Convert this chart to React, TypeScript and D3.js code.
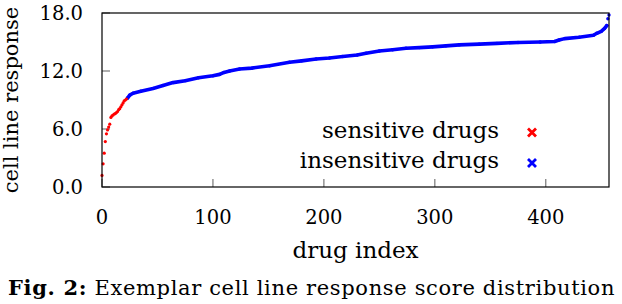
import React from "react";
import * as d3 from "d3";

// sensitive drugs (red), index -> score
const sensIdx = [0, 1, 2, 3, 4, 5, 6, 7, 8, 9, 10, 11, 12, 13, 14, 15, 16, 17, 18, 19, 20, 21, 22];
const sensVal = [1.2, 2.4, 3.5, 4.7, 5.5, 5.9, 6.2, 6.5, 7.2, 7.35, 7.45, 7.55, 7.6, 7.7, 7.8, 8.0, 8.1, 8.3, 8.5, 8.7, 8.9, 9.0, 9.1];

// insensitive drugs (blue), index -> score
const insIdx = [23, 25, 28, 35, 46, 55, 64, 75, 87, 100, 106, 110, 115, 124, 135, 151, 169, 180, 193, 205, 217, 230, 238, 250, 262, 274, 286, 298, 310, 322, 340, 356, 375, 395, 408, 412, 417, 430, 443, 446, 450, 453, 455, 456, 457];
const insVal = [9.2, 9.5, 9.7, 9.9, 10.2, 10.5, 10.8, 11.0, 11.3, 11.5, 11.65, 11.85, 12.0, 12.2, 12.3, 12.55, 12.9, 13.05, 13.24, 13.35, 13.5, 13.65, 13.83, 14.07, 14.2, 14.35, 14.42, 14.5, 14.6, 14.7, 14.78, 14.86, 14.95, 15.0, 15.05, 15.2, 15.35, 15.5, 15.7, 15.9, 16.1, 16.4, 16.7, 17.4, 17.8];

const xTicks = [0, 100, 200, 300, 400];
const yTicks = [0, 6, 12, 18];
const legendLabels = ["sensitive drugs", "insensitive drugs"];
const legendColors = ["#ff0000", "#0000ff"];

const FONT = "'DejaVu Serif', serif";

export default function App() {
  const W = 622, H = 304;
  const x = d3.scaleLinear().domain([0, 457]).range([102, 609]);
  const y = d3.scaleLinear().domain([0, 18]).range([187, 13]);

  const insPts = insIdx.map((d, i) => [d, insVal[i]] as [number, number]);
  const linePts = insPts.filter((p) => p[0] <= 455);
  const line = d3.line<[number, number]>().x((p) => x(p[0])).y((p) => y(p[1]));

  return (
    <svg width={W} height={H} style={{ position: "absolute", left: 0, top: 0, background: "#fff" }}>
      {/* ticks */}
      {xTicks.map((t) => (
        <line key={"xt" + t} x1={x(t)} x2={x(t)} y1={y(0)} y2={y(0) - 8} stroke="#777" strokeWidth={1.2} />
      ))}
      {yTicks.map((t) => (
        <line key={"yt" + t} x1={x(0)} x2={x(0) + 8} y1={y(t)} y2={y(t)} stroke="#777" strokeWidth={1.2} />
      ))}
      {/* data */}
      <path d={line(linePts) || ""} fill="none" stroke="#0000ff" strokeWidth={3.6} strokeLinejoin="round" strokeLinecap="round" />
      {insPts.map((p, i) => (
        <circle key={"b" + i} cx={x(p[0])} cy={y(p[1])} r={1.7} fill="#0000ff" />
      ))}
      {sensIdx.map((d, i) => (
        <circle key={"r" + i} cx={x(d)} cy={y(sensVal[i])} r={1.6} fill="#ff0000" />
      ))}
      {/* frame */}
      <rect x={x(0)} y={y(18)} width={x(457) - x(0)} height={y(0) - y(18)} fill="none" stroke="#000" strokeWidth={1.2} />
      {/* tick labels */}
      {xTicks.map((t) => (
        <text key={"xl" + t} x={x(t)} y={224} textAnchor="middle" fontFamily={FONT} fontSize={19.5} fill="#000">
          {t}
        </text>
      ))}
      {yTicks.map((t) => (
        <text key={"yl" + t} x={83} y={y(t) + 7} textAnchor="end" fontFamily={FONT} fontSize={19.5} fill="#000">
          {t.toFixed(1)}
        </text>
      ))}
      {/* axis titles */}
      <text x={(x(0) + x(457)) / 2} y={258} textAnchor="middle" fontFamily={FONT} fontSize={23} fill="#000">
        drug index
      </text>
      <text transform={`translate(18,100) rotate(-90)`} textAnchor="middle" fontFamily={FONT} fontSize={21} fill="#000">
        cell line response
      </text>
      {/* legend */}
      {legendLabels.map((lab, i) => {
        const by = 137.5 + i * 30.5;
        const mx = 532, my = by - 5;
        return (
          <g key={lab}>
            <text x={499} y={by} textAnchor="end" fontFamily={FONT} fontSize={23} fill="#000">
              {lab}
            </text>
            <path d={`M${mx - 4},${my - 4}L${mx + 4},${my + 4}M${mx - 4},${my + 4}L${mx + 4},${my - 4}`} stroke={legendColors[i]} strokeWidth={2.8} />
          </g>
        );
      })}
      {/* caption */}
      <text x={8} y={295} fontFamily={FONT} fontSize={21} letterSpacing={0.65} fill="#000">
        <tspan fontWeight="bold">Fig. 2:</tspan>
        <tspan> Exemplar cell line response score distribution</tspan>
      </text>
    </svg>
  );
}
